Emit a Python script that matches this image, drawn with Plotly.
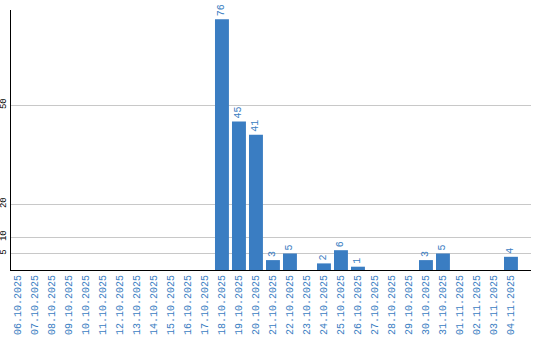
import plotly.graph_objects as go

dates = ["06.10.2025", "07.10.2025", "08.10.2025", "09.10.2025", "10.10.2025",
         "11.10.2025", "12.10.2025", "13.10.2025", "14.10.2025", "15.10.2025",
         "16.10.2025", "17.10.2025", "18.10.2025", "19.10.2025", "20.10.2025",
         "21.10.2025", "22.10.2025", "23.10.2025", "24.10.2025", "25.10.2025",
         "26.10.2025", "27.10.2025", "28.10.2025", "29.10.2025", "30.10.2025",
         "31.10.2025", "01.11.2025", "02.11.2025", "03.11.2025", "04.11.2025"]
values = [0, 0, 0, 0, 0, 0, 0, 0, 0, 0, 0, 0, 76, 45, 41, 3, 5, 0, 2, 6,
          1, 0, 0, 0, 3, 5, 0, 0, 0, 4]
y_ticks = [5, 10, 20, 50]

BLUE = "#3a7dc2"
FONT = "Liberation Mono"

labels = [str(v) if v > 0 else "" for v in values]

fig = go.Figure(go.Bar(
    x=list(range(len(dates))), y=values, text=labels,
    textposition="outside", textangle=-90,
    textfont=dict(family=FONT, size=10, color=BLUE),
    marker=dict(color=BLUE, line=dict(width=0)),
    cliponaxis=False, width=0.82,
))

fig.update_layout(
    width=540, height=340,
    margin=dict(l=11, r=9, t=10, b=70),
    paper_bgcolor="white", plot_bgcolor="white",
    showlegend=False,
    font=dict(family=FONT, size=10),
    uniformtext=dict(minsize=10, mode="show"),
)
fig.update_xaxes(
    tickmode="array", tickvals=list(range(len(dates))), ticktext=dates,
    tickangle=-90, tickfont=dict(family=FONT, size=10, color=BLUE),
    range=[-0.41, 30.18], showgrid=False, zeroline=False,
    showline=True, linecolor="black", linewidth=1, ticks="",
    automargin=False,
)
fig.update_yaxes(
    tickmode="array", tickvals=y_ticks, tickangle=-90,
    tickfont=dict(family=FONT, size=9, color="black"),
    range=[0, 78.8], showgrid=True, gridcolor="#c8c8c8", gridwidth=1,
    zeroline=False, showline=True, linecolor="black", linewidth=1, ticks="",
    automargin=False,
)

fig.write_html("out.html")
